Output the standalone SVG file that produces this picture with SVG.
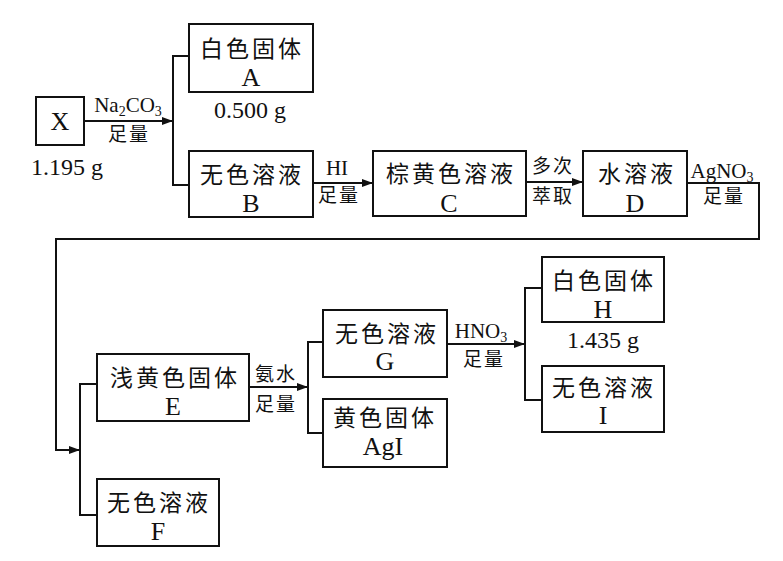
<svg xmlns="http://www.w3.org/2000/svg" width="783" height="561" viewBox="0 0 783 561">
<style>
.box{fill:none;stroke:#111;stroke-width:2}
.ln{fill:none;stroke:#111;stroke-width:2}
.cn{font-family:"Noto Sans CJK SC","Liberation Serif",sans-serif;font-size:23px;letter-spacing:3px;text-anchor:middle;fill:#111}
.lt{font-family:"Liberation Serif","Noto Sans CJK SC",serif;font-size:26px;text-anchor:middle;fill:#111}
.sm{font-family:"Noto Sans CJK SC",sans-serif;font-size:19px;letter-spacing:2px;text-anchor:middle;fill:#111}
.sl{font-family:"Liberation Serif",serif;font-size:21px;text-anchor:middle;fill:#111}
.num{font-family:"Liberation Serif",serif;font-size:24px;text-anchor:middle;fill:#111}
.sub{font-size:14px}
</style>
<defs>
<marker id="ar" markerUnits="userSpaceOnUse" markerWidth="12" markerHeight="10" refX="11" refY="5" orient="auto">
<path d="M0,1 L11,5 L0,9 Z" fill="#111"/>
</marker>
</defs>
<rect width="783" height="561" fill="#fff"/>
<g id="connectors">
<line class="ln" x1="84" y1="121" x2="173" y2="121" marker-end="url(#ar)"/>
<polyline class="ln" points="189,56 173,56 173,185 189,185"/>
<line class="ln" x1="313" y1="183" x2="373" y2="183" marker-end="url(#ar)"/>
<line class="ln" x1="526" y1="182" x2="583" y2="182" marker-end="url(#ar)"/>
<polyline class="ln" points="687,183 759,183 759,239 56,239 56,450 80,450" marker-end="url(#ar)"/>
<polyline class="ln" points="97,384 80,384 80,515 97,515"/>
<line class="ln" x1="249" y1="387" x2="308" y2="387" marker-end="url(#ar)"/>
<polyline class="ln" points="323,342 308,342 308,433 323,433"/>
<line class="ln" x1="447" y1="344" x2="525" y2="344" marker-end="url(#ar)"/>
<polyline class="ln" points="542,288 525,288 525,400 542,400"/>
<text class="sl" x="128" y="112">Na<tspan class="sub" dy="4">2</tspan><tspan dy="-4">CO</tspan><tspan class="sub" dy="4">3</tspan></text>
<text class="sm" x="129" y="141">足量</text>
<text class="sl" x="337" y="175">HI</text>
<text class="sm" x="339" y="202">足量</text>
<text class="sm" x="553" y="173">多次</text>
<text class="sm" x="553" y="203">萃取</text>
<text class="sl" x="722" y="178">AgNO<tspan class="sub" dy="4">3</tspan></text>
<text class="sm" x="724" y="203">足量</text>
<text class="sm" x="276" y="381">氨水</text>
<text class="sm" x="276" y="411">足量</text>
<text class="sl" x="481" y="338">HNO<tspan class="sub" dy="4">3</tspan></text>
<text class="sm" x="484" y="366">足量</text>
</g>
<g id="X">
<rect class="box" x="36" y="97" width="48" height="48"/>
<text class="lt" x="60" y="130">X</text>
<text class="num" x="67" y="175">1.195 g</text>
</g>
<g id="A">
<rect class="box" x="189" y="24" width="124" height="68"/>
<text class="cn" x="252" y="57">白色固体</text>
<text class="lt" x="251" y="86">A</text>
<text class="num" x="250" y="118">0.500 g</text>
</g>
<g id="B">
<rect class="box" x="189" y="151" width="124" height="66"/>
<text class="cn" x="252" y="183">无色溶液</text>
<text class="lt" x="251" y="212">B</text>
</g>
<g id="C">
<rect class="box" x="373" y="151" width="153" height="65"/>
<text class="cn" x="451" y="182">棕黄色溶液</text>
<text class="lt" x="449" y="212">C</text>
</g>
<g id="D">
<rect class="box" x="583" y="151" width="104" height="65"/>
<text class="cn" x="637" y="182">水溶液</text>
<text class="lt" x="635" y="212">D</text>
</g>
<g id="E">
<rect class="box" x="97" y="354" width="152" height="67"/>
<text class="cn" x="175" y="386">浅黄色固体</text>
<text class="lt" x="173" y="415">E</text>
</g>
<g id="F">
<rect class="box" x="97" y="479" width="122" height="67"/>
<text class="cn" x="159" y="511">无色溶液</text>
<text class="lt" x="158" y="540">F</text>
</g>
<g id="G">
<rect class="box" x="323" y="310" width="124" height="67"/>
<text class="cn" x="387" y="342">无色溶液</text>
<text class="lt" x="385" y="370">G</text>
</g>
<g id="AgI">
<rect class="box" x="323" y="399" width="124" height="68"/>
<text class="cn" x="385" y="426">黄色固体</text>
<text class="lt" x="383" y="455">AgI</text>
</g>
<g id="H">
<rect class="box" x="542" y="257" width="122" height="65"/>
<text class="cn" x="604" y="289">白色固体</text>
<text class="lt" x="603" y="318">H</text>
<text class="num" x="603" y="348">1.435 g</text>
</g>
<g id="I">
<rect class="box" x="542" y="366" width="122" height="66"/>
<text class="cn" x="604" y="396">无色溶液</text>
<text class="lt" x="603" y="424">I</text>
</g>
</svg>
